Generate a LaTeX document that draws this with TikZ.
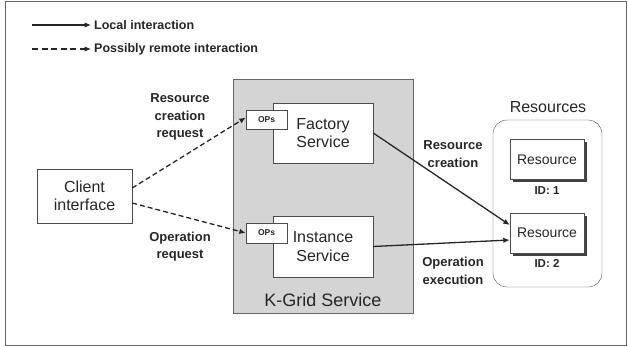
\documentclass[tikz,border=0pt]{standalone}
\usepackage{fontspec}
\setmainfont{Liberation Sans}
\usetikzlibrary{arrows.meta,positioning,shadows}

\begin{document}
\begin{tikzpicture}[
    x=1pt, y=-1pt,
    every node/.style={font=\fontsize{13}{16}\selectfont\bfseries, text=black!85},
    box/.style={draw=black!70, fill=white, align=center, inner sep=0pt, font=\fontsize{16}{18.5}\selectfont},
    service/.style={draw=black!60, fill=black!17, inner sep=0pt},
    ops/.style={draw=black!70, fill=white, inner sep=0pt, minimum width=41pt, font=\fontsize{8.5}{10}\selectfont\bfseries},
    resource/.style={draw=black!70, fill=white, inner sep=0pt, minimum width=74pt, minimum height=40pt, font=\fontsize{14}{16}\selectfont,
        drop shadow={shadow xshift=3pt, shadow yshift=-3pt, fill=black!75, opacity=1}},
    pool/.style={draw=black!70, rounded corners=14pt, inner sep=0pt},
    label/.style={align=center, font=\fontsize{13}{17.5}\selectfont\bfseries},
    legend/.style={anchor=west, inner sep=0pt, font=\fontsize{12.5}{15}\selectfont\bfseries},
    idtag/.style={font=\fontsize{11.5}{14}\selectfont\bfseries},
    flow/.style={-{Latex[length=6.5pt,width=5.5pt]}, line width=1.3pt, draw=black!85},
    remote/.style={-{Latex[length=6.5pt,width=5.5pt]}, line width=1.3pt, draw=black!85, dash pattern=on 5pt off 3pt}
]
\useasboundingbox (0,0) rectangle (628,347);
\draw[black!60, line width=0.8pt] (5,1) rectangle (626,345);

% legend
\node[legend] (loc) at (94,25) {Local interaction};
\node[legend] (rem) at (94,49) {Possibly remote interaction};
\coordinate (locstart) at (32,25);
\coordinate (remstart) at (32,49);
\draw[flow, line width=1.1pt, shorten >=3pt] (locstart) -- (loc.west);
\draw[remote, line width=1.1pt, shorten >=3pt, dash pattern=on 6pt off 3.5pt] (remstart) -- (rem.west);

% client
\node[box, minimum width=95pt, minimum height=54pt] (client) at (84.5,196) {Client\\interface};

% K-Grid service
\node[service, minimum width=180pt, minimum height=234pt] (kgrid) at (323,196) {};
\node[font=\fontsize{18}{20}\selectfont] (kgridlabel) at (323,300) {K-Grid Service};
\node[box, minimum width=100pt, minimum height=60pt] (factory) at (323,133) {Factory\\Service};
\node[box, minimum width=100pt, minimum height=61pt] (instance) at (323,246.5) {Instance\\Service};
\node[ops, minimum height=19pt] (opsfactory) at (266.5,119.5) {OPs};
\node[ops, minimum height=20pt] (opsinstance) at (266.5,233) {OPs};

% resources
\node[pool, minimum width=109pt, minimum height=167pt] (pool) at (547.5,203.5) {};
\node[font=\fontsize{16}{18}\selectfont] (poollabel) at (548,107) {Resources};
\node[resource] (res1) at (547,159.5) {Resource};
\node[resource] (res2) at (547,233) {Resource};
\node[idtag, below=3pt of res1] (id1) {ID: 1};
\node[idtag, below=3pt of res2] (id2) {ID: 2};

% labels
\node[label] (creqlabel) at (180,117) {Resource\\creation\\request};
\node[label] (oreqlabel) at (180,246.5) {Operation\\request};
\node[label] (creslabel) at (453,154) {Resource\\creation};
\node[label] (oexlabel) at (453,271) {Operation\\execution};

\draw[remote] ([yshift=8pt]client.east) -- ([yshift=2pt]opsfactory.west);
\draw[remote] ([yshift=-7pt]client.east) -- (opsinstance.west);
\draw[flow] (factory.east) -- ([yshift=8pt]res2.west);
\draw[flow] (instance.east) -- ([yshift=-7pt]res2.west);
\end{tikzpicture}
\end{document}
